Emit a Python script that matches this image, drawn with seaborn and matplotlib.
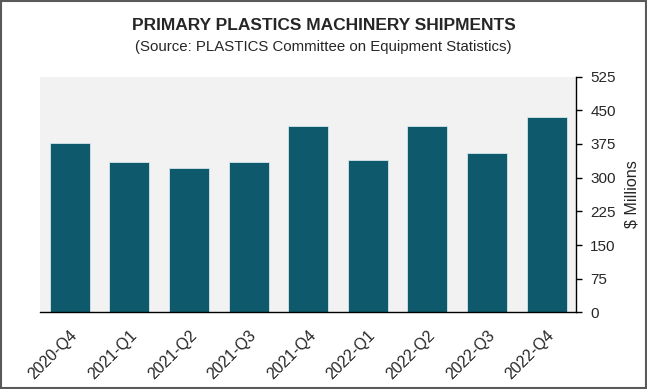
import numpy as np
import pandas as pd
import matplotlib
matplotlib.use("Agg")
import matplotlib.pyplot as plt
import seaborn as sns
from matplotlib.patches import Rectangle

quarters = ["2020-Q4", "2021-Q1", "2021-Q2", "2021-Q3", "2021-Q4",
            "2022-Q1", "2022-Q2", "2022-Q3", "2022-Q4"]
shipments = [377, 335, 322, 335, 416, 340, 414, 354, 434]
yticks = [0, 75, 150, 225, 300, 375, 450, 525]

sns.set_style("white")
plt.rcParams['font.family'] = ['Liberation Sans', 'DejaVu Sans']

df = pd.DataFrame({"quarter": quarters, "value": shipments})

fig = plt.figure(figsize=(6.47, 3.89), dpi=100)
# plot area ~ x 40..576 px, y 77..312 px
ax = fig.add_axes([0.0618, 0.197, 0.829, 0.606])
ax.set_facecolor("#F2F2F2")

sns.barplot(data=df, x="quarter", y="value", color="#0E5A6C", saturation=1,
            width=0.67, edgecolor="#D5E6EA", linewidth=0.6, ax=ax)

ax.set_xlim(-0.5, len(quarters) - 0.5)
ax.set_ylim(0, 525)
ax.set_yticks(yticks)
ax.yaxis.tick_right()
ax.yaxis.set_label_position("right")
ax.set_ylabel("$ Millions", fontsize=11.6, labelpad=6)
ax.set_xlabel("")

ax.set_xticks(range(len(quarters)))
ax.set_xticklabels(quarters, rotation=45, ha="right", rotation_mode="anchor", fontsize=11.5)
ax.set_xticks(np.arange(-0.5, len(quarters), 1), minor=True)
ax.tick_params(axis="x", which="major", length=0, pad=11)
ax.tick_params(axis="x", which="minor", length=4, width=1, color="black", direction="out")
ax.tick_params(axis="y", length=4, width=1, color="black", direction="out", labelsize=11, pad=6)

for s in ["top", "left"]:
    ax.spines[s].set_visible(False)
for s in ["bottom", "right"]:
    ax.spines[s].set_color("black")
    ax.spines[s].set_linewidth(1)

fig.text(0.5, 1 - 25 / 389, "PRIMARY PLASTICS MACHINERY SHIPMENTS", ha="center", va="center",
         fontsize=12.5, fontweight="bold")
fig.text(0.5, 1 - 47.5 / 389, "(Source: PLASTICS Committee on Equipment Statistics)", ha="center",
         va="center", fontsize=10.8)

fig.patches.append(Rectangle((0.002, 0.003), 0.996, 0.994, transform=fig.transFigure,
                             fill=False, edgecolor="#595959", linewidth=1.5))

fig.savefig("out.png", dpi=100)
